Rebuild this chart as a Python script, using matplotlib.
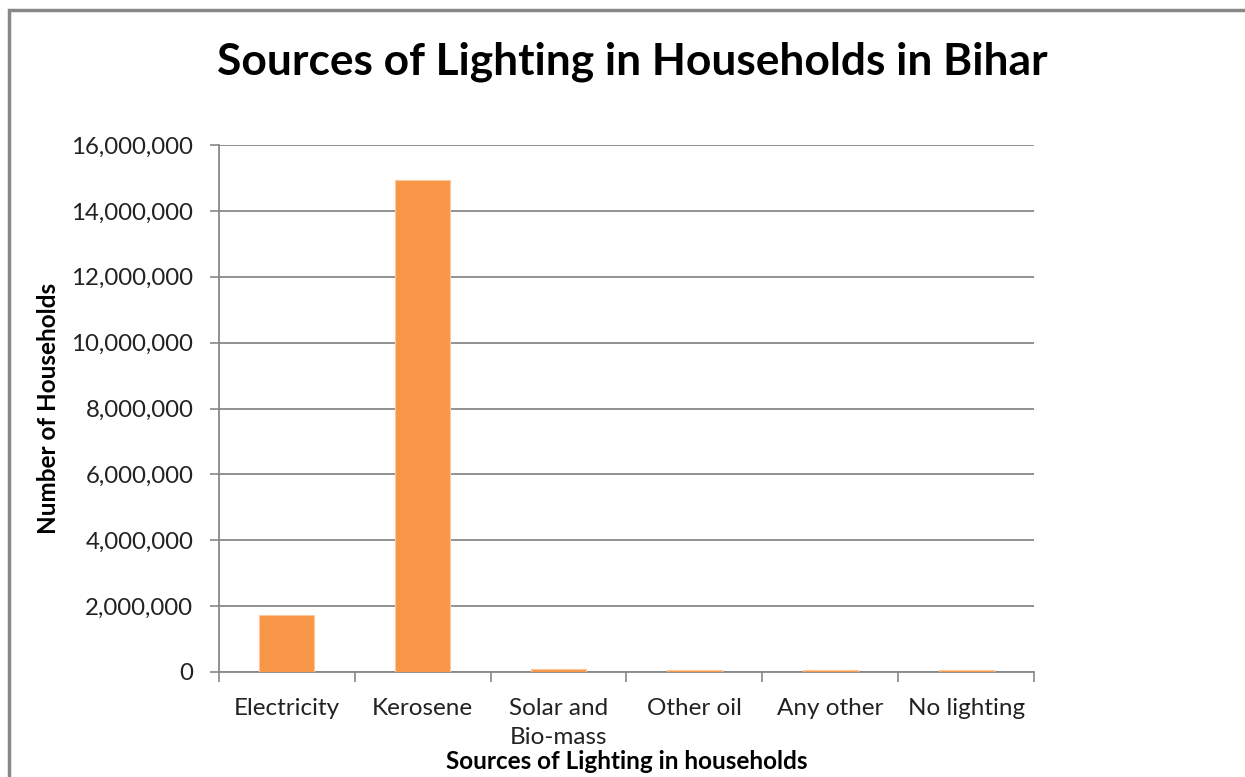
import matplotlib.pyplot as plt
from matplotlib.patches import Rectangle
from matplotlib.ticker import FuncFormatter, FixedLocator, NullFormatter
import numpy as np

categories = ['Electricity', 'Kerosene', 'Solar and\nBio-mass', 'Other oil', 'Any other', 'No lighting']
households = [1745000, 14940000, 90000, 50000, 50000, 50000]
yticks = [0, 2000000, 4000000, 6000000, 8000000, 10000000, 12000000, 14000000, 16000000]

plt.rcParams['font.family'] = ['Lato', 'DejaVu Sans']

fig = plt.figure(figsize=(12.45, 7.77), dpi=100)
ax = fig.add_axes([219 / 1245, 1 - 672 / 777, 815 / 1245, 527 / 777])

grey = '#888888'
x = np.arange(len(categories))
ax.bar(x, households, width=0.405, color='#F79646', edgecolor='#FBC79C', linewidth=0.8, zorder=3)

ax.set_xlim(-0.5, len(categories) - 0.5)
ax.set_ylim(0, 16000000)
ax.set_yticks(yticks)
ax.yaxis.set_major_formatter(FuncFormatter(lambda v, p: f'{int(v):,}'))
ax.grid(axis='y', color=grey, linewidth=1.3, zorder=0)

# category ticks between bars, labels centred under bars
ax.xaxis.set_major_locator(FixedLocator(np.arange(-0.5, len(categories), 1.0)))
ax.xaxis.set_major_formatter(NullFormatter())
ax.xaxis.set_minor_locator(FixedLocator(x))
ax.set_xticklabels(categories, minor=True)
ax.tick_params(axis='x', which='minor', length=0, pad=18.5, labelsize=17.5, colors='#222222')
ax.tick_params(axis='x', which='major', length=7, width=1.2, color=grey)
ax.tick_params(axis='y', length=6.5, width=1.2, color=grey, labelsize=17.3, labelcolor='#222222', pad=12)
for lab in ax.get_xticklabels(minor=True):
    lab.set_linespacing(1.5)
    lab.set_verticalalignment('top')

for side in ['top', 'right']:
    ax.spines[side].set_visible(False)
for side in ['left', 'bottom']:
    ax.spines[side].set_color(grey)
    ax.spines[side].set_linewidth(1.3)

ax.set_ylabel('Number of Households', fontsize=17.5, fontweight='bold')
ax.yaxis.set_label_coords(-159 / 815, 0.5)
ax.set_xlabel('Sources of Lighting in households', fontsize=17.5, fontweight='bold')
ax.xaxis.set_label_coords(0.5, -78 / 527)

fig.text(632 / 1245, 1 - 62 / 777, 'Sources of Lighting in Households in Bihar',
         fontsize=31.9, fontweight='bold', ha='center', va='center')

# outer frame of the embedded chart
fig.patches.append(Rectangle((9 / 1245, -0.1), 1.2, 1 - 10 / 777 + 0.1, transform=fig.transFigure,
                             fill=False, edgecolor=grey, linewidth=2.5))

fig.savefig('out.png', dpi=100)
